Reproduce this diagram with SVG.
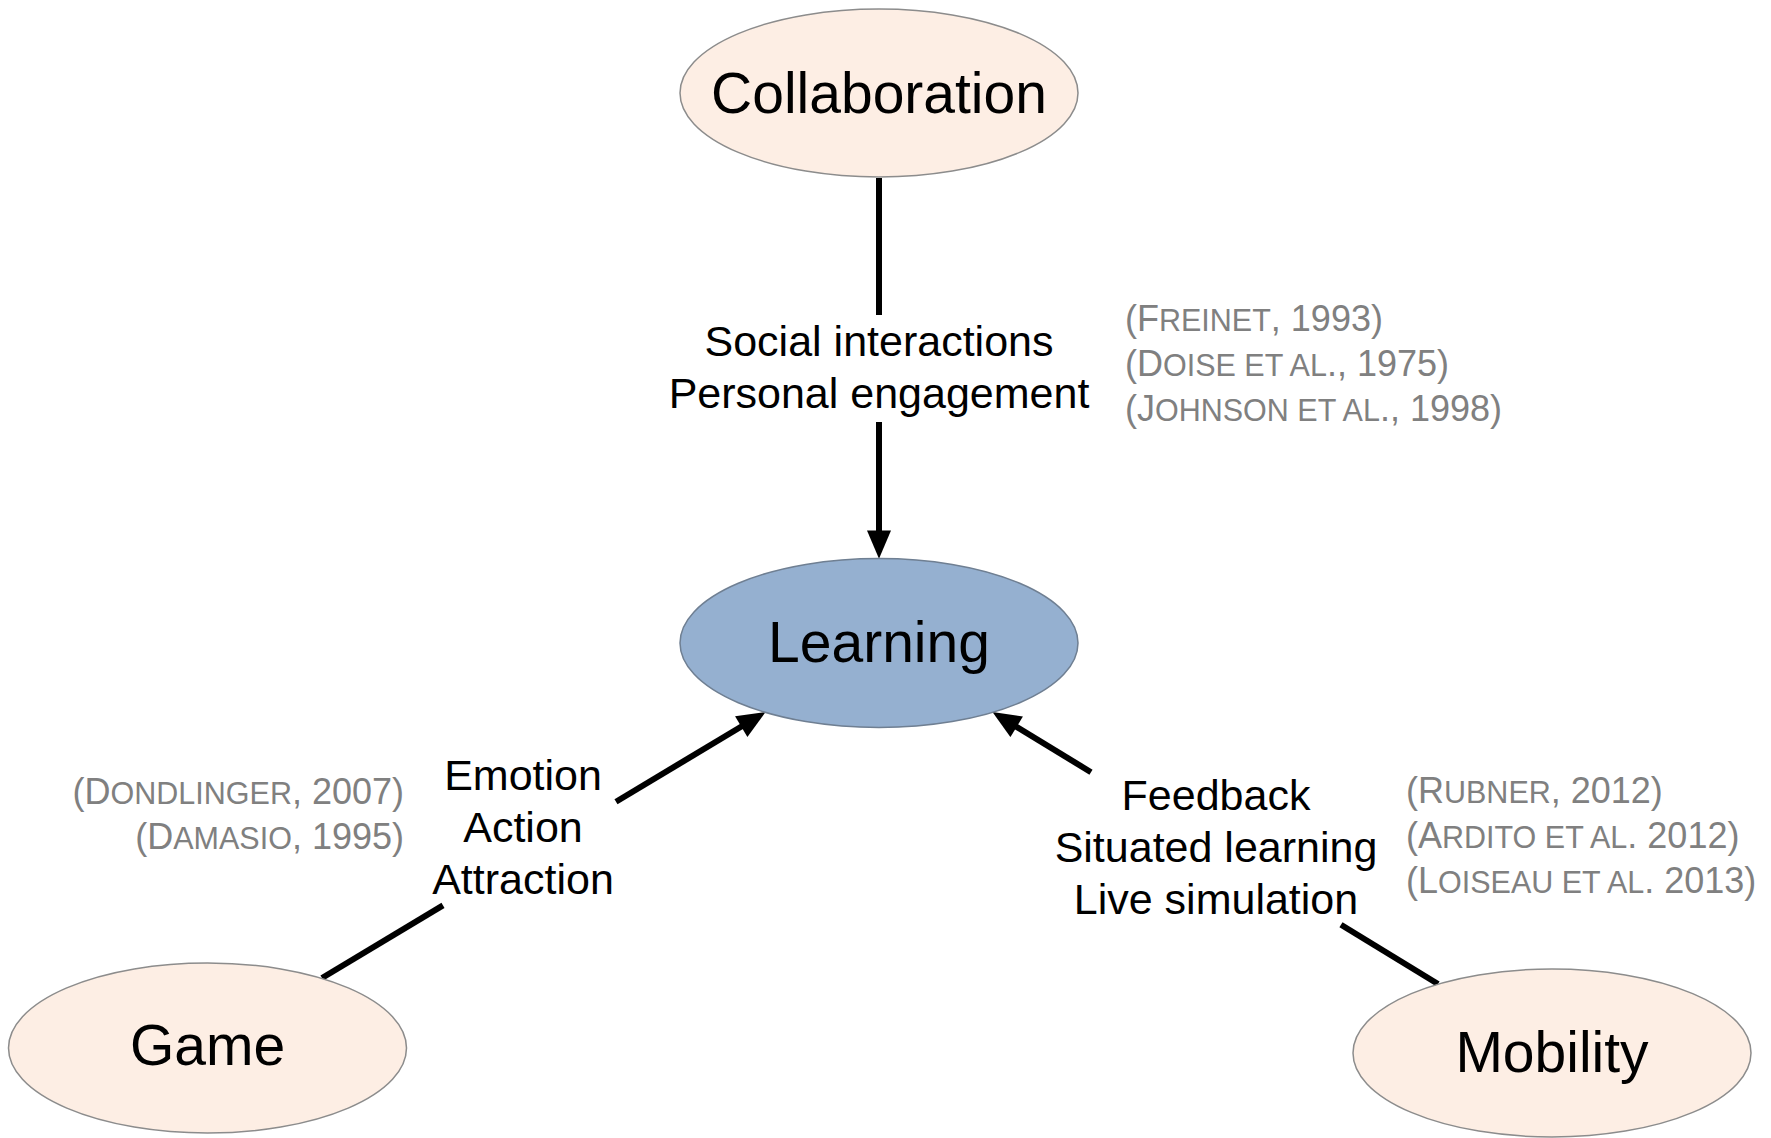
<svg xmlns="http://www.w3.org/2000/svg" width="1771" height="1138" viewBox="0 0 1771 1138">
<style>
.node{fill:#FDEEE4;stroke:#8C8C8C;stroke-width:1.5}
.learn{fill:#95B0D0;stroke:#6F7F92;stroke-width:1.5}
.title{font-family:"Liberation Sans",Arial,sans-serif;font-size:57px;fill:#000;text-anchor:middle}
.lbl{font-family:"Liberation Sans",Arial,sans-serif;font-size:43px;fill:#000;text-anchor:middle}
.cite{font-family:"Liberation Sans",Arial,sans-serif;font-size:36px;fill:#808080}
.sc{font-size:30.5px}
.edge{stroke:#000;stroke-width:6;fill:none}
</style>
<defs>
<marker id="ah" markerUnits="userSpaceOnUse" markerWidth="30" markerHeight="24" viewBox="0 0 26 22" refX="6" refY="11" orient="auto">
<path d="M0,0 L26,11 L0,22 z" fill="#000"/>
</marker>
</defs>
<rect width="1771" height="1138" fill="#fff"/>
<g id="connectors">
<line class="edge" x1="879" y1="178" x2="879" y2="315"/>
<line class="edge" x1="879" y1="422" x2="879" y2="537" marker-end="url(#ah)"/>
<line class="edge" x1="322" y1="978" x2="443" y2="905.4"/>
<line class="edge" x1="616" y1="801.7" x2="746.85" y2="723.28" marker-end="url(#ah)"/>
<line class="edge" x1="1438" y1="984" x2="1341" y2="924.8"/>
<line class="edge" x1="1091" y1="772.2" x2="1011.07" y2="723.42" marker-end="url(#ah)"/>
</g>
<g id="collaboration">
<ellipse class="node" cx="879" cy="93" rx="199" ry="84"/>
<text class="title" x="879" y="113">Collaboration</text>
</g>
<g id="learning">
<ellipse class="learn" cx="879" cy="643" rx="199" ry="84.5"/>
<text class="title" x="879" y="662">Learning</text>
</g>
<g id="game">
<ellipse class="node" cx="207.5" cy="1048" rx="199" ry="85"/>
<text class="title" x="207.5" y="1065">Game</text>
</g>
<g id="mobility">
<ellipse class="node" cx="1552" cy="1053" rx="199" ry="84"/>
<text class="title" x="1552" y="1072">Mobility</text>
</g>
<g id="label-collab">
<text class="lbl" x="879" y="356">Social interactions</text>
<text class="lbl" x="879" y="408">Personal engagement</text>
</g>
<g id="label-game">
<text class="lbl" x="523" y="790">Emotion</text>
<text class="lbl" x="523" y="842">Action</text>
<text class="lbl" x="523" y="894">Attraction</text>
</g>
<g id="label-mobility">
<text class="lbl" x="1216" y="810">Feedback</text>
<text class="lbl" x="1216" y="862">Situated learning</text>
<text class="lbl" x="1216" y="914">Live simulation</text>
</g>
<g id="cites-collab">
<text class="cite" x="1125" y="331">(F<tspan class="sc">REINET</tspan>, 1993)</text>
<text class="cite" x="1125" y="376">(D<tspan class="sc">OISE ET AL</tspan>., 1975)</text>
<text class="cite" x="1125" y="421">(J<tspan class="sc">OHNSON ET AL</tspan>., 1998)</text>
</g>
<g id="cites-game">
<text class="cite" x="404" y="804" text-anchor="end">(D<tspan class="sc">ONDLINGER</tspan>, 2007)</text>
<text class="cite" x="404" y="849" text-anchor="end">(D<tspan class="sc">AMASIO</tspan>, 1995)</text>
</g>
<g id="cites-mobility">
<text class="cite" x="1406" y="803">(R<tspan class="sc">UBNER</tspan>, 2012)</text>
<text class="cite" x="1406" y="848">(A<tspan class="sc">RDITO ET AL</tspan>. 2012)</text>
<text class="cite" x="1406" y="893">(L<tspan class="sc">OISEAU ET AL</tspan>. 2013)</text>
</g>
</svg>
